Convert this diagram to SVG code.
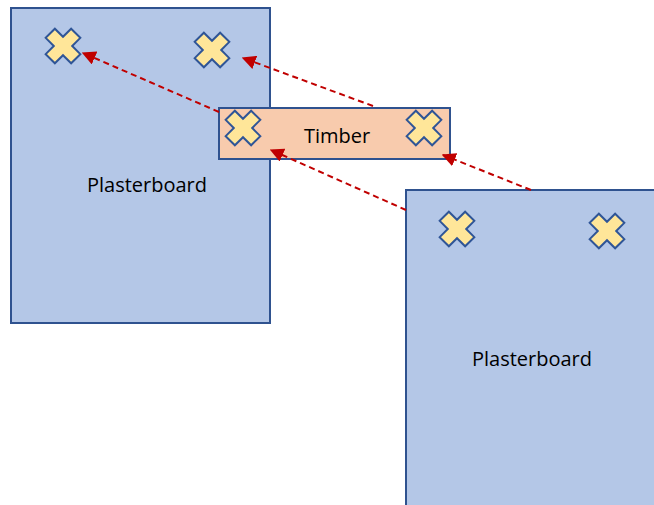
<svg xmlns="http://www.w3.org/2000/svg" width="654" height="505" viewBox="0 0 654 505">
<style>
.board{fill:#B4C7E7;stroke:#2F528F;stroke-width:2}
.timber{fill:#F8CBAD;stroke:#2F528F;stroke-width:2}
.lbl{font-family:"Open Sans","Liberation Sans",sans-serif;font-size:20px;fill:#000;text-anchor:middle}
.conn{fill:none;stroke:#C00000;stroke-width:2;stroke-dasharray:6 4}
</style>
<defs>
<marker id="ah" viewBox="0 0 10 10" refX="9" refY="5" markerWidth="7" markerHeight="7" orient="auto" markerUnits="strokeWidth">
<path d="M0,0 L10,5 L0,10 Z" fill="#C00000"/>
</marker>
<path id="x" d="M-6.5,-18 H6.5 V-6.5 H18 V6.5 H6.5 V18 H-6.5 V6.5 H-18 V-6.5 H-6.5 Z" transform="rotate(45)" fill="#FFE699" stroke="#2F5597" stroke-width="2" stroke-linejoin="miter"/>
</defs>
<g id="board-left">
<rect class="board" x="11" y="8" width="259" height="315"/>
<text class="lbl" x="147" y="192">Plasterboard</text>
</g>
<g id="board-right">
<rect class="board" x="406" y="190" width="260" height="330"/>
<text class="lbl" x="532" y="366">Plasterboard</text>
</g>
<g id="timber">
<rect class="timber" x="219" y="108" width="231" height="51"/>
<text class="lbl" x="337" y="143">Timber</text>
</g>
<g id="screws">
<use href="#x" x="63" y="46"/>
<use href="#x" x="212" y="50"/>
<use href="#x" x="243" y="128"/>
<use href="#x" x="424" y="128"/>
<use href="#x" x="457" y="229"/>
<use href="#x" x="607" y="231"/>
</g>
<g id="connectors">
<path class="conn" d="M219,112 L83,53" marker-end="url(#ah)"/>
<path class="conn" d="M373,106 L243,58" marker-end="url(#ah)"/>
<path class="conn" d="M406,210 L271,150" marker-end="url(#ah)"/>
<path class="conn" d="M531,190 L443,155" marker-end="url(#ah)"/>
</g>
</svg>
